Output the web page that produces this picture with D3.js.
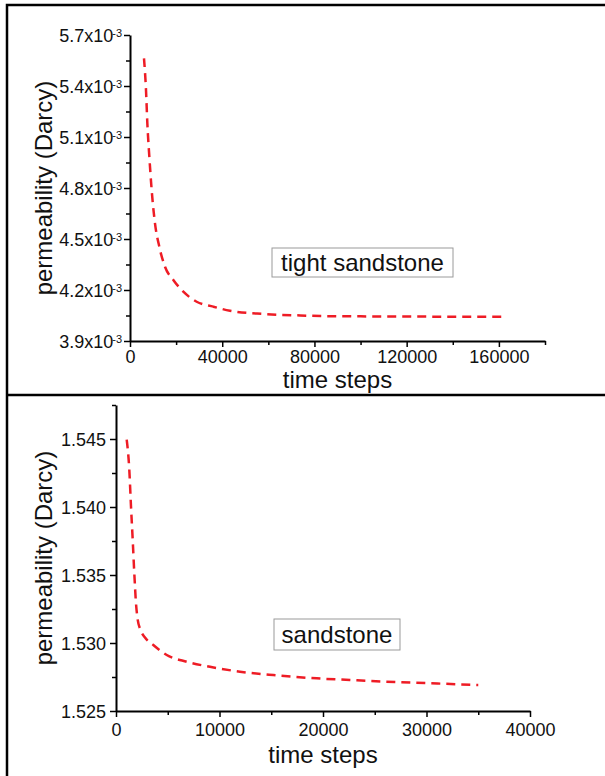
<!DOCTYPE html>
<html>
<head>
<meta charset="utf-8">
<script src="https://cdn.jsdelivr.net/npm/d3@7"></script>
<style>
  body { margin: 0; background: #fff; }
  text { font-family: "Liberation Sans", Arial, sans-serif; fill: #111; }
</style>
</head>
<body>
<div id="chart"></div>
<script>
// tight sandstone curve (time steps, permeability in Darcy)
var tightSteps = [6070, 6940, 7520, 8390, 9400, 10840, 12720, 15180, 18790, 23130, 28910, 36140, 43370, 57830, 72290, 86750, 100000, 120000, 140000, 162000];
var tightPerm = [5.563e-3, 5.376e-3, 5.181e-3, 4.984e-3, 4.788e-3, 4.592e-3, 4.454e-3, 4.337e-3, 4.259e-3, 4.190e-3, 4.131e-3, 4.102e-3, 4.078e-3, 4.059e-3, 4.051e-3, 4.046e-3, 4.045e-3, 4.044e-3, 4.043e-3, 4.043e-3];

// sandstone curve
var sandSteps = [1034, 1285, 1449, 1614, 1768, 1932, 2100, 2350, 2802, 3604, 4899, 6831, 9082, 11981, 15198, 19391, 22609, 26000, 30000, 35000];
var sandPerm = [1.54495, 1.54274, 1.54004, 1.53758, 1.53513, 1.53292, 1.53170, 1.53100, 1.53040, 1.52985, 1.52912, 1.52862, 1.52825, 1.52789, 1.52764, 1.52740, 1.52728, 1.52716, 1.52705, 1.52691];

// tick values
var tightYTicks = [3.9e-3, 4.2e-3, 4.5e-3, 4.8e-3, 5.1e-3, 5.4e-3, 5.7e-3];
var tightYMinor = [4.05e-3, 4.35e-3, 4.65e-3, 4.95e-3, 5.25e-3, 5.55e-3];
var tightXTicks = [0, 40000, 80000, 120000, 160000];
var tightXMinor = [20000, 60000, 100000, 140000, 180000];
var sandYTicks = [1.525, 1.530, 1.535, 1.540, 1.545];
var sandYMinor = [1.5275, 1.5325, 1.5375, 1.5425, 1.5475];
var sandXTicks = [0, 10000, 20000, 30000, 40000];
var sandXMinor = [5000, 15000, 25000, 35000];

var width = 605;
var height = 776;

var svg = d3.select("#chart")
  .append("svg")
  .attr("width", width)
  .attr("height", height);

// outer frame
svg.append("path")
  .attr("d", "M7,776 V5 H605 M7,395 H605")
  .attr("fill", "none")
  .attr("stroke", "#000")
  .attr("stroke-width", 2.5);

function drawPanel(opt) {
  var x = d3.scaleLinear().domain(opt.xDomain).range(opt.xRange);
  var y = d3.scaleLinear().domain(opt.yDomain).range(opt.yRange);
  var g = svg.append("g");

  // minor ticks
  g.append("g")
    .attr("transform", "translate(0," + opt.yRange[0] + ")")
    .call(d3.axisBottom(x).tickValues(opt.xMinor).tickSize(4).tickFormat(""))
    .call(function(a) { a.select(".domain").remove(); a.selectAll("line").attr("stroke-width", 1.5); });
  g.append("g")
    .attr("transform", "translate(" + opt.xRange[0] + ",0)")
    .call(d3.axisLeft(y).tickValues(opt.yMinor).tickSize(4).tickFormat(""))
    .call(function(a) { a.select(".domain").remove(); a.selectAll("line").attr("stroke-width", 1.5); });

  // x axis
  var xa = g.append("g")
    .attr("transform", "translate(0," + opt.yRange[0] + ")")
    .call(d3.axisBottom(x).tickValues(opt.xTicks).tickSize(6).tickSizeOuter(0).tickPadding(5).tickFormat(d3.format("d")));
  xa.select(".domain").attr("stroke-width", 2);
  xa.selectAll("line").attr("stroke-width", 1.5);
  xa.selectAll("text")
    .attr("font-size", opt.tickFont)
    .attr("fill", "#111")
    .attr("dy", null)
    .attr("y", opt.xLabelY);

  // y axis
  var ya = g.append("g")
    .attr("transform", "translate(" + opt.xRange[0] + ",0)")
    .call(d3.axisLeft(y).tickValues(opt.yTicks).tickSize(6).tickSizeOuter(0).tickPadding(opt.yPad).tickFormat(opt.yFormat));
  ya.select(".domain").attr("stroke-width", 2);
  ya.selectAll("line").attr("stroke-width", 1.5);
  ya.selectAll("text")
    .attr("font-size", opt.tickFont)
    .attr("fill", "#111")
    .attr("dy", "0.34em");
  if (opt.sup) {
    ya.selectAll("text").each(function() {
      var t = d3.select(this);
      var s = t.text();
      t.text(null);
      t.append("tspan").text(s);
      t.append("tspan").attr("font-size", 11).attr("dy", "-0.45em").attr("dx", "-1").text(opt.sup);
    });
  }

  // axis titles
  g.append("text")
    .attr("x", (opt.xRange[0] + opt.xRange[1]) / 2)
    .attr("y", opt.xTitleY)
    .attr("text-anchor", "middle")
    .attr("font-size", 24)
    .text("time steps");
  g.append("text")
    .attr("transform", "translate(52," + (opt.yRange[0] + opt.yRange[1]) / 2 + ") rotate(-90)")
    .attr("text-anchor", "middle")
    .attr("font-size", 24)
    .text("permeability (Darcy)");

  // curve
  var line = d3.line()
    .x(function(d) { return x(d[0]); })
    .y(function(d) { return y(d[1]); })
    .curve(d3.curveMonotoneX);
  g.append("path")
    .datum(d3.zip(opt.steps, opt.perm))
    .attr("d", line)
    .attr("fill", "none")
    .attr("stroke", "#ee1c25")
    .attr("stroke-width", 2.5)
    .attr("stroke-dasharray", "9,6");

  // label box
  var lab = g.append("g");
  lab.append("rect")
    .attr("x", opt.box[0]).attr("y", opt.box[1])
    .attr("width", opt.box[2]).attr("height", opt.box[3])
    .attr("fill", "#fff")
    .attr("stroke", "#9a9a9a")
    .attr("stroke-width", 1);
  lab.append("text")
    .attr("x", opt.box[0] + opt.box[2] / 2)
    .attr("y", opt.box[1] + opt.box[3] / 2 + 8)
    .attr("text-anchor", "middle")
    .attr("font-size", 24)
    .text(opt.label);
}

drawPanel({
  xDomain: [0, 180000], xRange: [130, 545],
  yDomain: [3.9e-3, 5.7e-3], yRange: [341, 35],
  xTicks: tightXTicks, xMinor: tightXMinor,
  yTicks: tightYTicks, yMinor: tightYMinor,
  yFormat: function(d) { return (d * 1000).toFixed(1) + "x10"; },
  sup: "-3", yPad: 2,
  tickFont: 18, xLabelY: 22, xTitleY: 388,
  steps: tightSteps, perm: tightPerm,
  box: [272, 248, 181, 29], label: "tight sandstone"
});

drawPanel({
  xDomain: [0, 40000], xRange: [116, 530],
  yDomain: [1.525, 1.5475], yRange: [711, 405],
  xTicks: sandXTicks, xMinor: sandXMinor,
  yTicks: sandYTicks, yMinor: sandYMinor,
  yFormat: d3.format(".3f"),
  sup: null, yPad: 4,
  tickFont: 18, xLabelY: 25, xTitleY: 763,
  steps: sandSteps, perm: sandPerm,
  box: [274, 619, 126, 31], label: "sandstone"
});
</script>
</body>
</html>
